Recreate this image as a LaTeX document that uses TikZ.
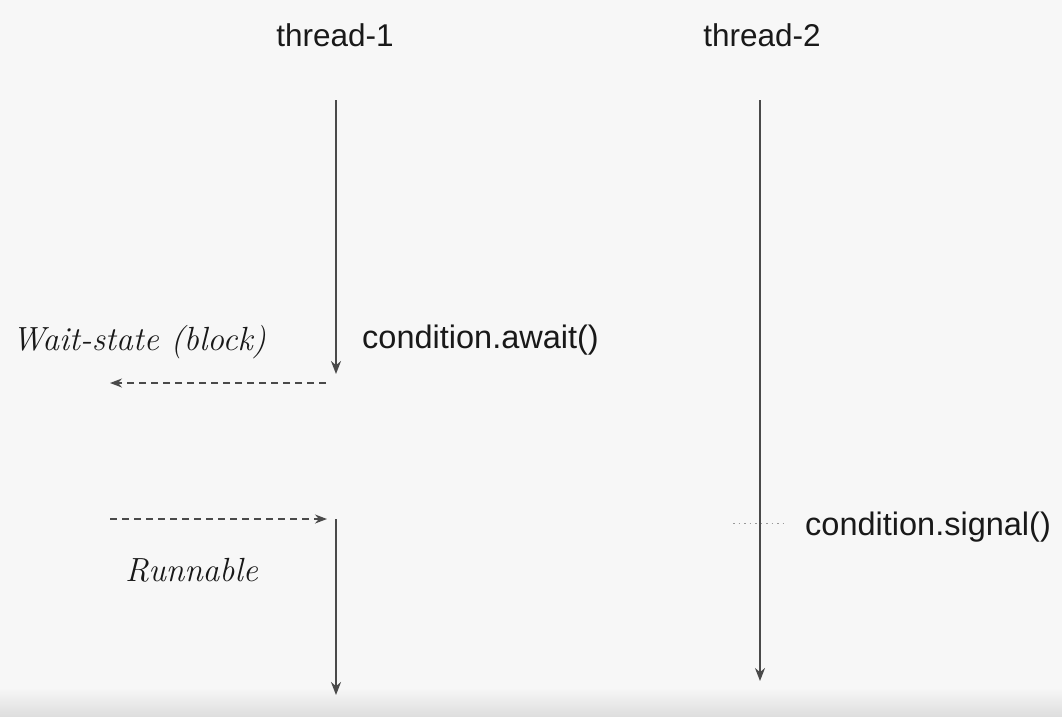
\documentclass[tikz,border=0pt]{standalone}
\usepackage{fontspec}
\setmainfont{Liberation Sans}
\usetikzlibrary{arrows.meta}
\definecolor{bgc}{HTML}{F7F7F7}
\definecolor{linec}{HTML}{4A4A4A}
\tikzset{
  lbl/.style={font=\fontsize{31.5}{36}\selectfont, text=black!90, inner sep=0pt},
  code/.style={font=\fontsize{32.5}{38}\selectfont, text=black!90, inner sep=0pt, anchor=west},
  hand/.style={font=\fontspec{Latin Modern Roman}\itshape\fontsize{33.5}{38}\selectfont, text=black!90, inner sep=0pt},
  life/.style={draw=linec, line width=1.8pt, -{Stealth[length=13pt,width=10pt]}},
  dasharr/.style={draw=linec, line width=1.5pt, dash pattern=on 7pt off 5pt, -{Stealth[length=12pt,width=9pt]}},
  dotln/.style={draw=black!40, line width=1pt, dash pattern=on 1.5pt off 4pt}
}
\begin{document}
\begin{tikzpicture}[x=1pt,y=-1pt]
\fill[bgc] (0,0) rectangle (1062,716);
\shade[top color=bgc, bottom color=black!13] (0,688) rectangle (1062,716);
\useasboundingbox (0,0) rectangle (1062,716);

\node[lbl] (t1) at (335,35) {thread-1};
\node[lbl] (t2) at (762,35) {thread-2};

\coordinate (a1) at (336,100);
\coordinate (a2) at (336,374);
\coordinate (a3) at (336,519);
\coordinate (a4) at (336,695);
\coordinate (b1) at (760,100);
\coordinate (b2) at (760,681);

\draw[life] (a1) -- (a2);
\draw[life] (a3) -- (a4);
\draw[life] (b1) -- (b2);

\coordinate (w1) at (326,383);
\coordinate (w2) at (110,383);
\coordinate (r1) at (110,519);
\coordinate (r2) at (327,519);
\draw[dasharr] (w1) -- (w2);
\draw[dasharr] (r1) -- (r2);

\coordinate (s1) at (733,523);
\coordinate (s2) at (783,523);
\draw[dotln] (s1) -- (s2);

\node[code] (await) at (362,340) {condition.await()};
\node[code] (signal) at (805,527) {condition.signal()};
\node[hand, anchor=west] (wait) at (12,342) {Wait-state (block)};
\node[hand, anchor=west] (run) at (125,570) {Runnable};
\end{tikzpicture}
\end{document}
